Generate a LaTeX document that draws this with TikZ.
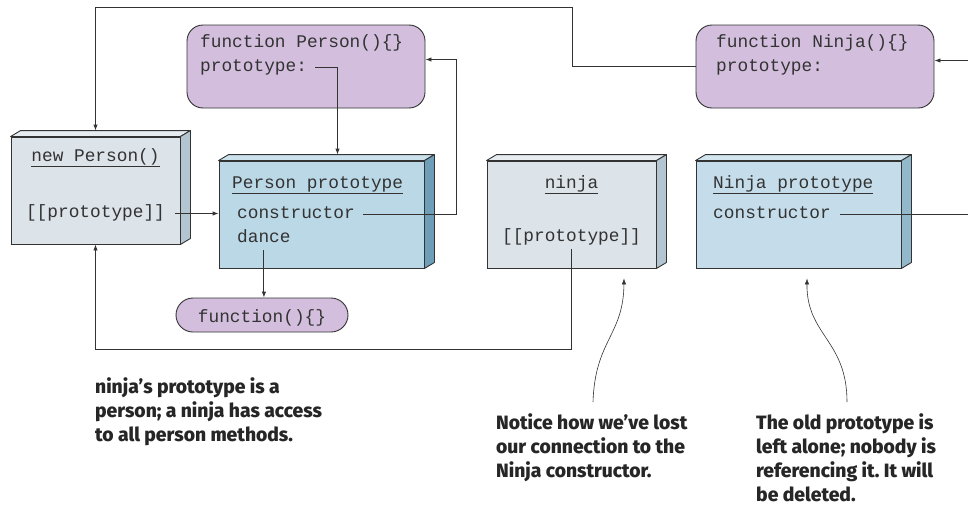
\documentclass[tikz,border=0pt]{standalone}
\usepackage{xcolor}
\usepackage{fontspec}
\setmainfont{Fira Sans}[BoldFont={Fira Sans ExtraBold}]
\setmonofont{Liberation Mono}
\usepackage{tikz}
\usetikzlibrary{positioning, arrows.meta, calc}
\definecolor{linegray}{HTML}{333333}
\definecolor{objgray}{HTML}{DCE3E9}
\definecolor{objgrayside}{HTML}{B3C5D1}
\definecolor{objgraytop}{HTML}{E6ECF0}
\definecolor{protoblue}{HTML}{BBD8E6}
\definecolor{protoblueside}{HTML}{6E9FB9}
\definecolor{protobluetop}{HTML}{CBE2EC}
\definecolor{oldblue}{HTML}{C5DDEA}
\definecolor{oldblueside}{HTML}{93B7CB}
\definecolor{oldbluetop}{HTML}{D3E6EF}
\definecolor{fnpurple}{HTML}{D3BFDD}
\frenchspacing

% depth faces of a slab: node, top colour, side colour
\newcommand{\slabdepth}[3]{%
  \filldraw[fill=#2, draw=linegray, line width=0.9pt, line join=round]
    (#1.north west) -- ++(10,-6) -- ($(#1.north east)+(10,-6)$) -- (#1.north east) -- cycle;
  \filldraw[fill=#3, draw=linegray, line width=0.9pt, line join=round]
    (#1.north east) -- ++(10,-6) -- ($(#1.south east)+(10,-6)$) -- (#1.south east) -- cycle;
}

\begin{document}
\begin{tikzpicture}[x=1pt, y=-1pt,
    slab/.style={draw=linegray, line width=0.9pt, minimum width=#1, minimum height=107pt, inner sep=0pt},
    fnbox/.style={draw=linegray, line width=0.9pt, fill=fnpurple, rounded corners=16pt,
      minimum width=238pt, minimum height=83pt, inner sep=0pt},
    code/.style={font=\fontsize{17.8}{20}\ttfamily, text=linegray, inner xsep=8pt, inner ysep=4pt,
      text height=11pt, text depth=4pt},
    heading/.style={code, inner xsep=0pt},
    arr/.style={draw=linegray, line width=0.9pt, -{Latex[length=6pt, width=4.5pt]}},
    note/.style={font=\fontsize{19.3}{24}\selectfont\bfseries, text=black!85, align=left,
      anchor=north west, inner sep=0pt}]
  \useasboundingbox (0,0) rectangle (968,506);

  % constructor functions
  \node[fnbox] (pfn) at (306,66.5) {};
  \node[code, anchor=base west, inner xsep=0pt] (pfname) at (200,47) {function Person()\{\}};
  \node[code, anchor=base west, inner xsep=0pt] (pfproto) at (200,71) {prototype:};
  \node[fnbox] (nfn) at (815,66.5) {};
  \node[code, anchor=base west, inner xsep=0pt] (nfname) at (716,47) {function Ninja()\{\}};
  \node[code, anchor=base west, inner xsep=0pt] (nfproto) at (716,71) {prototype:};

  % objects
  \node[slab=169pt, fill=objgray] (npf) at (95.5,190.5) {};
  \slabdepth{npf}{objgraytop}{objgrayside}
  \node[heading, anchor=base] (nptitle) at (95.5,161) {\underline{new Person()}};
  \node[code, anchor=base] (npproto) at (95.5,217) {[[prototype]]};

  \node[slab=205pt, fill=protoblue] (ppf) at (321.5,214.5) {};
  \slabdepth{ppf}{protobluetop}{protoblueside}
  \node[heading, anchor=base west] (pptitle) at (232,188) {\underline{Person prototype}};
  \node[code, anchor=base west, inner xsep=0pt] (ppctor) at (237,218) {constructor};
  \node[code, anchor=base west, inner xsep=0pt] (ppdance) at (237,242) {dance};

  \node[slab=169pt, fill=objgray] (nf) at (571.5,214.5) {};
  \slabdepth{nf}{objgraytop}{objgrayside}
  \node[heading, anchor=base] (ntitle) at (571.5,188) {\underline{ninja}};
  \node[code, anchor=base] (nproto) at (571.5,241) {[[prototype]]};

  \node[slab=205pt, fill=oldblue] (npr) at (798.5,214.5) {};
  \slabdepth{npr}{oldbluetop}{oldblueside}
  \node[heading, anchor=base west] (nprtitle) at (713,188) {\underline{Ninja prototype}};
  \node[code, anchor=base west, inner xsep=0pt] (nprctor) at (713,218) {constructor};

  \node[draw=linegray, line width=0.9pt, fill=fnpurple, rounded corners=17pt,
        minimum width=172pt, minimum height=34pt, inner sep=0pt] (anon) at (262,315) {};
  \node[code, anchor=base] (anonname) at (262,322) {function()\{\}};

  % references
  \draw[arr] ([xshift=8pt]pfproto.east) -| ([xshift=16pt, yshift=6pt]ppf.north);
  \draw[arr] ([xshift=8pt]ppctor.east) -- ++(94,0) |- ([yshift=7pt]pfn.east);
  \draw[arr] ([xshift=2pt]npproto.east) -- (npproto.east -| ppf.west);
  \draw[arr] (ppdance.south) -- (ppdance.south |- anon.north);
  \coordinate (toploop) at (572,7);
  \draw[arr] (nfn.west) -| (toploop) -| ([yshift=6pt]npf.north);
  \coordinate (bottomloop) at (0,349);
  \draw[arr] (nproto.south) |- (bottomloop -| npf.south) -- (npf.south);
  \draw[arr] ([xshift=9pt]nprctor.east) -- ++(150,0) |- ([yshift=6pt]nfn.east);

  % notes
  \node[note] (protonote) at (95,377) {ninja’s prototype is a\\person; a ninja has access\\to all person methods.};
  \node[note] (lostnote) at (496,413) {Notice how we’ve lost\\our connection to the\\Ninja constructor.};
  \node[note] (oldnote) at (756,413) {The old prototype is\\left alone; nobody is\\referencing it. It will\\be deleted.};
  \draw[-{Latex[length=6pt, width=4.5pt]}, draw=linegray, line width=0.6pt]
    ($(lostnote.north west)+(97,-11)$) .. controls ++(2,-62) and ($(nf.south)+(52,67)$) .. ([yshift=-10pt]nf.south -| 624,0);
  \draw[-{Latex[length=6pt, width=4.5pt]}, draw=linegray, line width=0.6pt]
    ($(oldnote.north west)+(91,-11)$) .. controls ++(0,-62) and ($(npr.south)+(8,67)$) .. ([yshift=-10pt]npr.south -| 807,0);
\end{tikzpicture}
\end{document}
